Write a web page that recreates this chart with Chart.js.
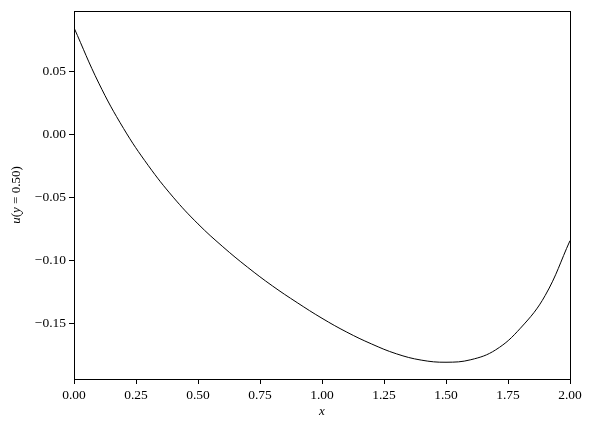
<!DOCTYPE html>
<html>
<head>
<meta charset="utf-8">
<script src="https://cdn.jsdelivr.net/npm/chart.js@4"></script>
<style>
html,body{margin:0;padding:0;background:#fff;}
#wrap{width:592px;height:429px;position:relative;}
</style>
</head>
<body>
<div id="wrap"><canvas id="c" width="592" height="429"></canvas></div>
<script>
const xValues = [0, 0.1, 0.2, 0.3, 0.4, 0.5, 0.6, 0.7, 0.8, 0.9, 1.0, 1.1, 1.2, 1.3, 1.4, 1.5, 1.6, 1.7, 1.8, 1.9, 2.0];
const uValues = [0.0845, 0.0405, 0.0045, -0.0250, -0.0500, -0.0712, -0.0893, -0.1056, -0.1204, -0.1337, -0.1461, -0.1571, -0.1665, -0.1743, -0.1793, -0.1810, -0.1790, -0.1712, -0.1540, -0.1280, -0.0845];
const xTicks = [0, 0.25, 0.5, 0.75, 1.0, 1.25, 1.5, 1.75, 2.0];
const yTicks = [-0.15, -0.10, -0.05, 0.00, 0.05];
const xLabel = 'x';
// y label pieces: [text, italic?]
const yLabelParts = [['u', true], ['(', false], ['y', true], [' = 0.50)', false]];

const FAM = '"Liberation Serif", "DejaVu Serif", serif';
const fmt = v => { const s = Math.abs(v).toFixed(2); return (v < -1e-9 ? '\u2212' : '') + s; };

const frame = {
  id: 'frame',
  afterDraw(chart) {
    const a = chart.chartArea, ctx = chart.ctx;
    ctx.save();
    ctx.strokeStyle = '#000';
    ctx.lineWidth = 1;
    ctx.strokeRect(Math.round(a.left) + 0.5, Math.round(a.top) + 0.5, Math.round(a.right - a.left), Math.round(a.bottom - a.top));
    ctx.fillStyle = '#000';
    ctx.textBaseline = 'middle';
    ctx.font = 'italic 13px ' + FAM;
    ctx.textAlign = 'center';
    ctx.fillText(xLabel, (a.left + a.right) / 2, 412);
    // rotated y label with mixed styles
    ctx.translate(17, (a.top + a.bottom) / 2);
    ctx.rotate(-Math.PI / 2);
    ctx.textAlign = 'left';
    let total = 0;
    const widths = yLabelParts.map(p => { ctx.font = (p[1] ? 'italic ' : '') + '13px ' + FAM; const w = ctx.measureText(p[0]).width; total += w; return w; });
    let x = -total / 2;
    yLabelParts.forEach((p, i) => { ctx.font = (p[1] ? 'italic ' : '') + '13px ' + FAM; ctx.fillText(p[0], x, 0); x += widths[i]; });
    ctx.restore();
  }
};

new Chart(document.getElementById('c'), {
  type: 'line',
  data: {
    datasets: [{
      data: xValues.map((x, i) => ({x: x, y: uValues[i]})),
      borderColor: '#000',
      borderWidth: 1,
      pointRadius: 0,
      fill: false,
      tension: 0.4
    }]
  },
  options: {
    responsive: false,
    animation: false,
    devicePixelRatio: 1,
    layout: {padding: {left: 0, right: 22, top: 10, bottom: 0}},
    plugins: {legend: {display: false}, tooltip: {enabled: false}},
    scales: {
      x: {
        type: 'linear', min: 0, max: 2,
        afterBuildTicks: s => { s.ticks = xTicks.map(v => ({value: v})); },
        afterFit: s => { s.height = 50; },
        grid: {drawOnChartArea: false, drawTicks: true, tickLength: 5, tickColor: '#000', color: '#000'},
        border: {display: true, color: '#000', width: 1},
        ticks: {color: '#000', padding: 3, maxRotation: 0, autoSkip: false,
          font: {family: FAM, size: 13.5},
          callback: v => fmt(v)}
      },
      y: {
        type: 'linear', min: -0.1943, max: 0.0977,
        afterBuildTicks: s => { s.ticks = yTicks.map(v => ({value: v})); },
        afterFit: s => { s.width = 74; },
        grid: {drawOnChartArea: false, drawTicks: true, tickLength: 5, tickColor: '#000', color: '#000'},
        border: {display: true, color: '#000', width: 1},
        ticks: {color: '#000', padding: 3, autoSkip: false,
          font: {family: FAM, size: 13.5},
          callback: v => fmt(v)}
      }
    }
  },
  plugins: [frame]
});
</script>
</body>
</html>
